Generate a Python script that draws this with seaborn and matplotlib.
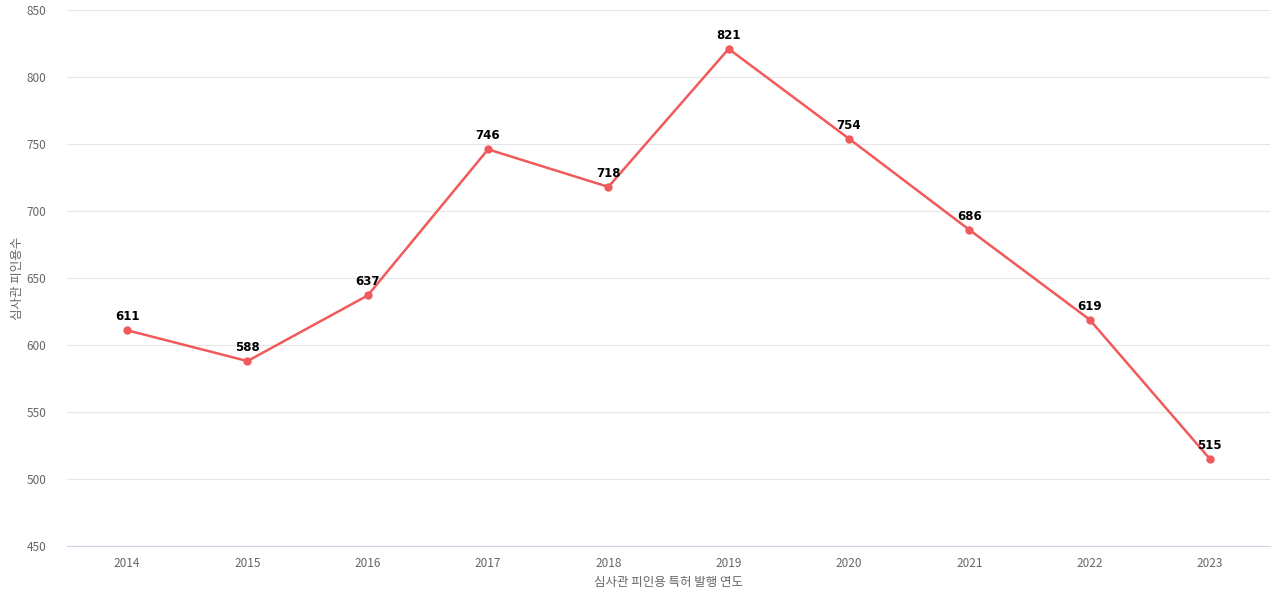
import matplotlib
matplotlib.use("Agg")
import matplotlib.pyplot as plt
import seaborn as sns
import pandas as pd

years = ["2014","2015","2016","2017","2018","2019","2020","2021","2022","2023"]
counts = [611, 588, 637, 746, 718, 821, 754, 686, 619, 515]
y_ticks = [450, 500, 550, 600, 650, 700, 750, 800, 850]

plt.rcParams["font.family"] = "Noto Sans CJK KR"
df = pd.DataFrame({"year": years, "count": counts})

fig = plt.figure(figsize=(12.8, 6), dpi=100)
ax = fig.add_axes([67/1280, 54/600, 1203/1280, 536/600])
sns.lineplot(data=df, x="year", y="count", ax=ax, color="#f05a5a", linewidth=1.8,
             marker="o", markersize=6, markeredgewidth=0, sort=False)
for i, v in enumerate(counts):
    ax.annotate(str(v), (i, v), xytext=(0, 5), textcoords="offset points",
                ha="center", va="bottom", fontsize=8.5, fontweight="bold", color="black",
                fontfamily="DejaVu Sans")
ax.set_ylim(450, 850)
ax.set_xlim(-0.5, 9.5)
ax.set_yticks(y_ticks)
ax.grid(axis="y", color="#e6e6e6", linewidth=0.8)
ax.set_axisbelow(True)
for s in ["top", "right", "left"]:
    ax.spines[s].set_visible(False)
ax.spines["bottom"].set_color("#ccd6eb")
ax.tick_params(axis="both", length=0, labelsize=8.5, labelcolor="#666666")
ax.tick_params(axis="y", pad=15)
ax.tick_params(axis="x", pad=8)
ax.set_xlabel("심사관 피인용 특허 발행 연도", fontsize=9, color="#666666", labelpad=4)
ax.set_ylabel("심사관 피인용수", fontsize=9, color="#666666", labelpad=2)
fig.savefig("out.png", dpi=100)
